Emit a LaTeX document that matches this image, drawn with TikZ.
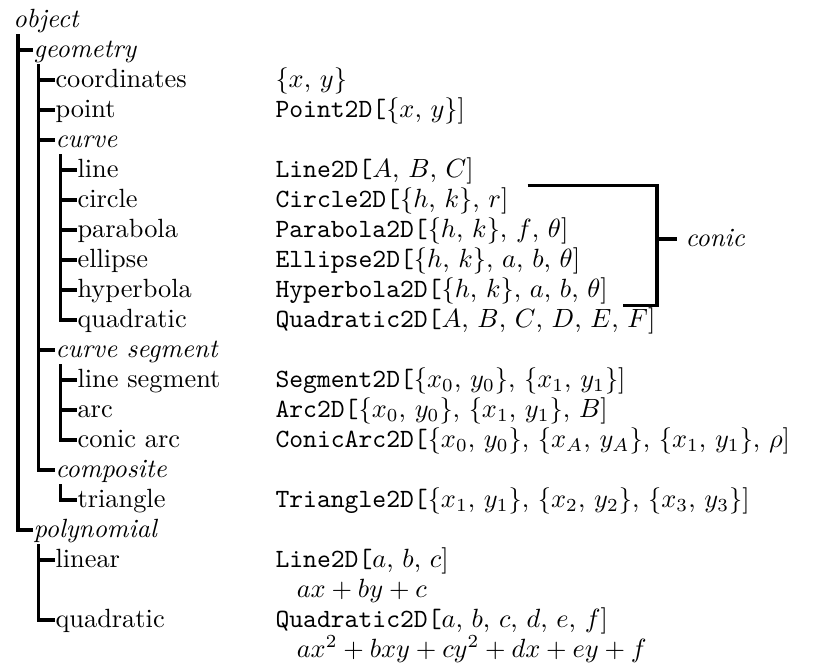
\documentclass[tikz,border=0pt]{standalone}
\usepackage{amsmath, amssymb}
\usepackage{tikz}
\usetikzlibrary{positioning, calc}

\tikzset{
  lbl/.style={anchor=west, inner sep=0pt, text height=8pt, text depth=2.5pt},
  cat/.style={lbl, font=\itshape},
  tree/.style={line width=1.2pt},
}

\begin{document}
\begin{tikzpicture}[x=1cm, y=-0.4cm]
    \useasboundingbox (0,-0.667) rectangle (10.907,21.70);
    % categories
    \foreach \nm/\x/\r/\txt in {obj/0.17/0/object, geom/0.44/1/geometry, curve/0.733/4/curve,
        cseg/0.733/11/curve segment, composite/0.733/15/composite, poly/0.44/17/polynomial} {
      \node[cat] (\nm) at (\x,\r) {\txt};
    }
    % leaves
    \foreach \nm/\x/\r/\txt in {coords/0.733/2/coordinates, point/0.733/3/point, line/1.027/5/line,
        circle/1.027/6/circle, parabola/1.027/7/parabola, ellipse/1.027/8/ellipse,
        hyperbola/1.027/9/hyperbola, quadC/1.027/10/quadratic, lineseg/1.027/12/line segment,
        arc/1.027/13/arc, conicarc/1.027/14/conic arc, triangle/1.027/16/triangle,
        linear/0.733/18/linear, quadP/0.733/20/quadratic} {
      \node[lbl] (\nm) at (\x,\r) {\txt};
    }
    % constructors
    \foreach \nm/\r/\txt in {
        coords/2/{$\{x$, $y\}$},
        point/3/{\texttt{Point2D[}$\{x$, $y\}$]},
        line/5/{\texttt{Line2D[}$A$, $B$, $C$]},
        circle/6/{\texttt{Circle2D[}$\{h$, $k\}$, $r$]},
        parabola/7/{\texttt{Parabola2D[}$\{h$, $k\}$, $f$, $\theta$]},
        ellipse/8/{\texttt{Ellipse2D[}$\{h$, $k\}$, $a$, $b$, $\theta$]},
        hyperbola/9/{\texttt{Hyperbola2D[}$\{h$, $k\}$, $a$, $b$, $\theta$]},
        quadC/10/{\texttt{Quadratic2D[}$A$, $B$, $C$, $D$, $E$, $F$]},
        lineseg/12/{\texttt{Segment2D[}$\{x_0$, $y_0\}$, $\{x_1$, $y_1\}$]},
        arc/13/{\texttt{Arc2D[}$\{x_0$, $y_0\}$, $\{x_1$, $y_1\}$, $B$]},
        conicarc/14/{\texttt{ConicArc2D[}$\{x_0$, $y_0\}$, $\{x_A$, $y_A\}$, $\{x_1$, $y_1\}$, $\rho$]},
        triangle/16/{\texttt{Triangle2D[}$\{x_1$, $y_1\}$, $\{x_2$, $y_2\}$, $\{x_3$, $y_3\}$]},
        linear/18/{\texttt{Line2D[}$a$, $b$, $c$]},
        quadP/20/{\texttt{Quadratic2D[}$a$, $b$, $c$, $d$, $e$, $f$]}} {
      \node[lbl] (v\nm) at (3.667,\r) {\txt};
    }
    \node[lbl] (flinear) at (3.95,19) {$ax+by+c$};
    \node[lbl] (fquadP) at (3.95,21) {$ax^2+bxy+cy^2+dx+ey+f$};

    % tree lines
    \foreach \p/\cs/\last in {obj/{geom,poly}/poly, geom/{coords,point,curve,cseg,composite}/composite,
        curve/{line,circle,parabola,ellipse,hyperbola,quadC}/quadC, cseg/{lineseg,arc,conicarc}/conicarc,
        composite/{triangle}/triangle, poly/{linear,quadP}/quadP} {
      \draw[tree] ([xshift=2pt]\p.south west) |- (\last.west);
      \foreach \c in \cs {
        \draw[tree] ([xshift=2pt]\p.south west |- \c.west) -- (\c.west);
      }
    }

    % conic bracket
    \node[cat] (conic) at (9.133,7.3) {conic};
    \coordinate (bk) at ([xshift=-0.373cm]conic.west);
    \draw[tree] ([xshift=0.25cm]vcircle.north east) -| (bk |- vquadC.north)
      -- ([xshift=0.2cm]vhyperbola.east |- vquadC.north);
    \draw[tree] (bk) -- ([xshift=-0.107cm]conic.west);
  \end{tikzpicture}
\end{document}
